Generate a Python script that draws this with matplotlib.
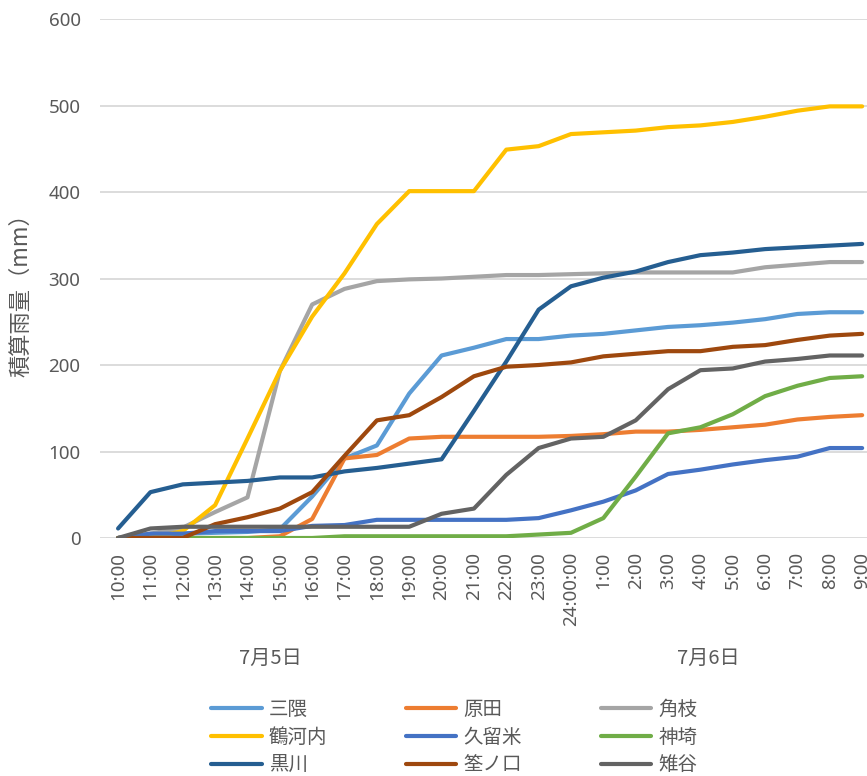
import matplotlib.pyplot as plt
import matplotlib.transforms as mtransforms

plt.rcParams['font.family'] = ['Noto Sans CJK JP', 'DejaVu Sans']

hours = ["10:00", "11:00", "12:00", "13:00", "14:00", "15:00", "16:00", "17:00",
         "18:00", "19:00", "20:00", "21:00", "22:00", "23:00", "24:00:00", "1:00",
         "2:00", "3:00", "4:00", "5:00", "6:00", "7:00", "8:00", "9:00"]
dates = ["7月5日", "7月6日"]

mikuma = [0, 3, 5, 6, 7, 10, 48, 92, 107, 167, 211, 220, 230, 230, 234, 236,
          240, 244, 246, 249, 253, 259, 261, 261]
harada = [0, 0, 0, 0, 0, 2, 22, 92, 96, 115, 117, 117, 117, 117, 118, 120,
          123, 123, 125, 128, 131, 137, 140, 142]
sumie = [0, 5, 12, 30, 47, 193, 270, 288, 297, 299, 300, 302, 304, 304, 305, 306,
         307, 307, 307, 307, 313, 316, 319, 319]
tsurukouchi = [0, 0, 8, 38, 115, 193, 256, 306, 363, 401, 401, 401, 449, 453, 467, 469,
               471, 475, 477, 481, 487, 494, 499, 499]
kurume = [0, 5, 5, 8, 8, 8, 14, 15, 21, 21, 21, 21, 21, 23, 32, 42,
          55, 74, 79, 85, 90, 94, 104, 104]
kanzaki = [0, 0, 0, 0, 0, 0, 0, 2, 2, 2, 2, 2, 2, 4, 6, 23,
           71, 121, 128, 143, 164, 176, 185, 187]
kurokawa = [11, 53, 62, 64, 66, 70, 70, 77, 81, 86, 91, 147, 204, 264, 291, 301,
            308, 319, 327, 330, 334, 336, 338, 340]
ukenokuchi = [0, 0, 0, 16, 24, 34, 53, 95, 136, 142, 163, 187, 198, 200, 203, 210,
              213, 216, 216, 221, 223, 229, 234, 236]
kijiya = [0, 11, 13, 13, 13, 13, 13, 13, 13, 13, 28, 34, 73, 104, 115, 117,
          136, 172, 194, 196, 204, 207, 211, 211]

series = [
    ("三隈", mikuma, "#5B9BD5"),
    ("原田", harada, "#ED7D31"),
    ("角枝", sumie, "#A5A5A5"),
    ("鶴河内", tsurukouchi, "#FFC000"),
    ("久留米", kurume, "#4472C4"),
    ("神埼", kanzaki, "#70AD47"),
    ("黒川", kurokawa, "#255E91"),
    ("筌ノ口", ukenokuchi, "#9E480E"),
    ("雉谷", kijiya, "#636363"),
]

grey = "#595959"

fig = plt.figure(figsize=(8.67, 7.76), dpi=100)
ax = fig.add_axes([0.1153, 0.3067, 0.8847, 0.6688])

x = list(range(len(hours)))
handles = []
for name, vals, color in series:
    h, = ax.plot(x, vals, color=color, lw=3, label=name, solid_capstyle='round',
                 solid_joinstyle='round')
    handles.append(h)

ax.set_xlim(-0.56, 23.15)
ax.set_ylim(0, 600)
ax.set_yticks(range(0, 601, 100))
ax.yaxis.grid(True, color="#D9D9D9", lw=1.3)
ax.set_axisbelow(True)
for s in ax.spines.values():
    s.set_visible(False)
ax.tick_params(axis='y', length=0, labelcolor=grey, pad=14)
ax.set_xticks(x)
ax.set_xticklabels(hours, rotation=90, va='top')
ax.tick_params(axis='x', length=0, labelcolor=grey, pad=10)
for lbl in ax.get_xticklabels() + ax.get_yticklabels():
    lbl.set_family('Noto Sans')
    lbl.set_fontsize(13.5)
ax.set_ylabel("積算雨量（mm）", fontsize=16, color=grey)
ax.yaxis.set_label_coords(-0.088, 0.478)

# date labels under the hour labels
trans = mtransforms.blended_transform_factory(ax.transData, fig.transFigure)
ax.text(4.7, 0.151, dates[0], transform=trans, ha='center', va='center',
        fontsize=14.5, color=grey)
ax.text(18.24, 0.151, dates[1], transform=trans, ha='center', va='center',
        fontsize=14.5, color=grey)

# legend, filled row by row like the original
order = [0, 3, 6, 1, 4, 7, 2, 5, 8]
leg = fig.legend([handles[i] for i in order], [series[i][0] for i in order],
                 ncol=3, loc='center', bbox_to_anchor=(0.524, 0.050),
                 frameon=False, fontsize=14, handlelength=2.58, handletextpad=0.36,
                 columnspacing=4.07, labelspacing=0.34)
for t in leg.get_texts():
    t.set_color(grey)

fig.savefig("out.png", dpi=100)
